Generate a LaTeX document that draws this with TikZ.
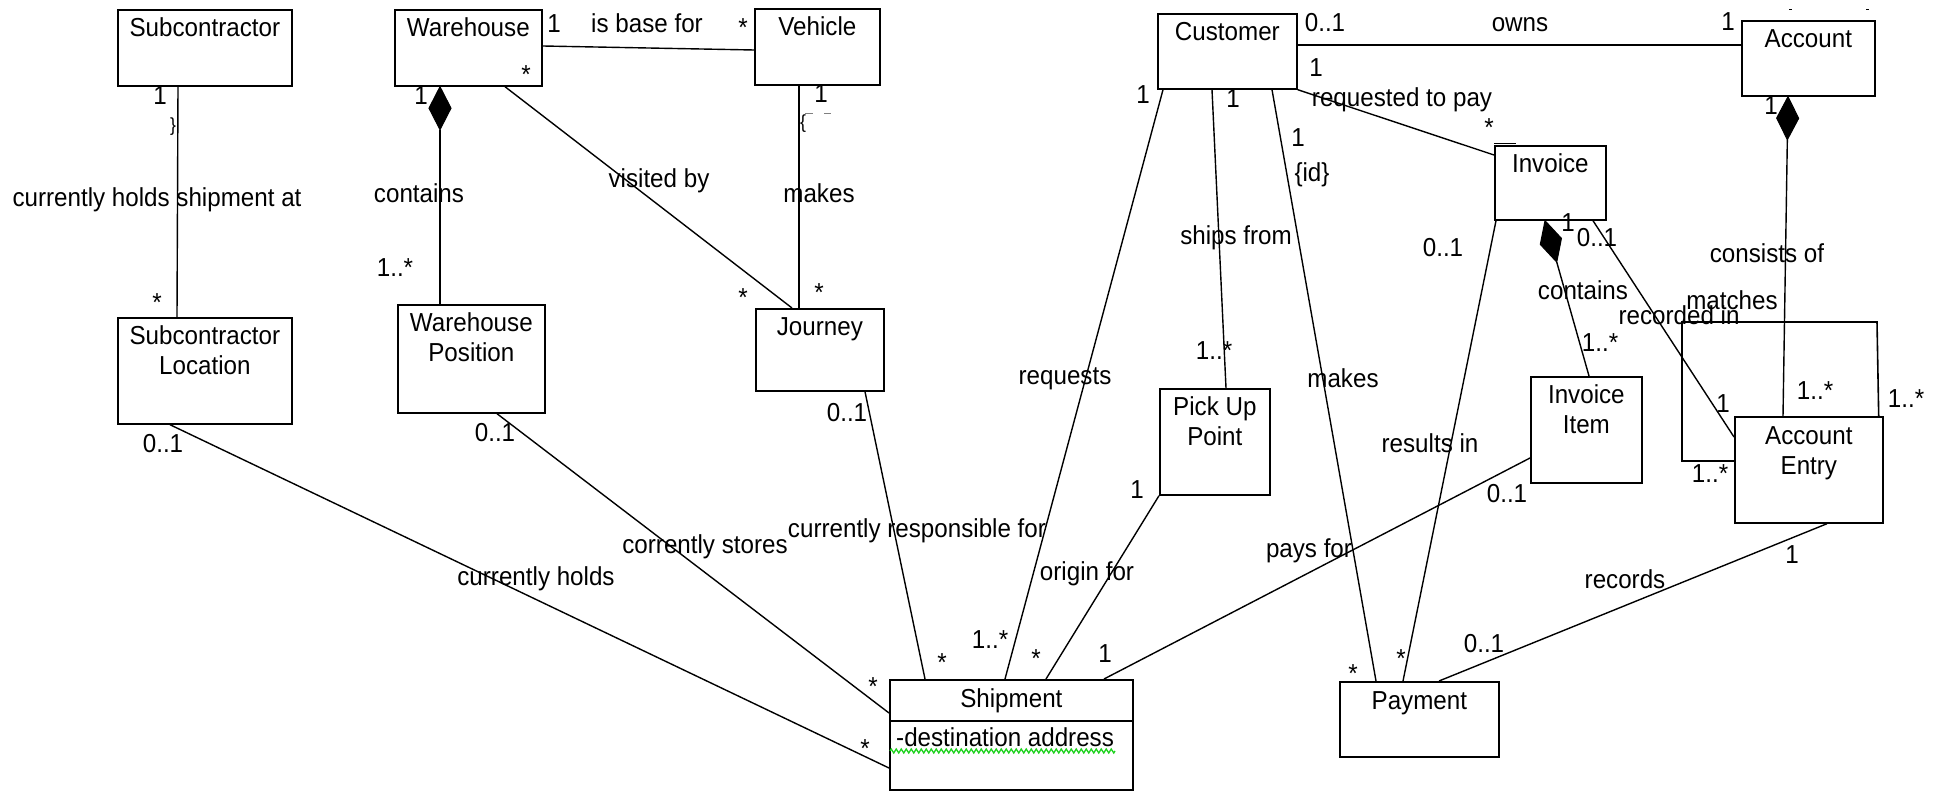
\documentclass[tikz,border=0pt]{standalone}
\usepackage{fontspec}
\setmainfont{Liberation Sans}[FakeStretch=0.93]
\usetikzlibrary{calc,decorations.pathmorphing}
\definecolor{spellmark}{RGB}{30,210,30}
\newcommand\umlfont{\fontsize{26}{30}\selectfont}
\newcommand\umlsmall{\fontsize{19}{22}\selectfont}
% composition: filled diamond at the whole's end, then a plain line to the part
\newcommand\umlcomp[2]{%
  \path (#1) coordinate (dA) (#2) coordinate (dB);
  \path ($(dA)!21.5pt!(dB)$) coordinate (dM) ($(dA)!43pt!(dB)$) coordinate (dE);
  \filldraw[line width=1pt] (dA) -- ($(dM)!11pt!90:(dB)$) -- (dE) -- ($(dM)!11pt!-90:(dB)$) -- cycle;
  \draw[assoc] (dE) -- (dB);}
\tikzset{
  cls/.style={draw, line width=1.7pt, inner sep=0pt, anchor=north west},
  lab/.style={inner sep=0pt, anchor=base, font=\umlfont},
  assoc/.style={line width=1.4pt},
}
\begin{document}
\begin{tikzpicture}[x=1pt,y=-1pt]
\fill[white] (0,0) rectangle (1944,791);
\useasboundingbox (0,0) rectangle (1944,791);

% ---------- classes ----------
\node[cls, minimum width=174pt, minimum height=76pt]  (sub)    at (117,9)   {};
\node[cls, minimum width=147pt, minimum height=76pt]  (wh)     at (394,9)   {};
\node[cls, minimum width=125pt, minimum height=76pt]  (veh)    at (754,8)   {};
\node[cls, minimum width=139pt, minimum height=75pt]  (cust)   at (1157,13) {};
\node[cls, minimum width=133pt, minimum height=75pt]  (acc)    at (1741,20) {};
\node[cls, minimum width=111pt, minimum height=74pt]  (inv)    at (1494,145){};
\node[cls, minimum width=174pt, minimum height=106pt] (subloc) at (117,317) {};
\node[cls, minimum width=147pt, minimum height=108pt] (whpos)  at (397,304) {};
\node[cls, minimum width=128pt, minimum height=82pt]  (jour)   at (755,308) {};
\node[cls, minimum width=110pt, minimum height=106pt] (pup)    at (1159,388){};
\node[cls, minimum width=111pt, minimum height=106pt] (invit)  at (1530,376){};
\node[cls, minimum width=148pt, minimum height=106pt] (acce)   at (1734,416){};
\node[cls, minimum width=243pt, minimum height=110pt] (ship)   at (889,679) {};
\node[cls, minimum width=159pt, minimum height=75pt]  (pay)    at (1339,681){};
\draw[line width=1.7pt] ([yshift=-42pt]ship.north west) -- ([yshift=-42pt]ship.north east);

% class names
\node[lab] at ([yshift=-28pt]sub.north)    {Subcontractor};
\node[lab] at ([yshift=-28pt]wh.north)     {Warehouse};
\node[lab] at ([yshift=-28pt]veh.north)    {Vehicle};
\node[lab] at ([yshift=-28pt]cust.north)   {Customer};
\node[lab] at ([yshift=-28pt]acc.north)    {Account};
\node[lab] at ([yshift=-28pt]inv.north)    {Invoice};
\node[lab] at ([yshift=-28pt]subloc.north) {Subcontractor};
\node[lab] at ([yshift=-58pt]subloc.north) {Location};
\node[lab] at ([yshift=-28pt]whpos.north)  {Warehouse};
\node[lab] at ([yshift=-58pt]whpos.north)  {Position};
\node[lab] at ([yshift=-28pt]jour.north)   {Journey};
\node[lab] at ([yshift=-28pt]pup.north)    {Pick Up};
\node[lab] at ([yshift=-58pt]pup.north)    {Point};
\node[lab] at ([yshift=-28pt]invit.north)  {Invoice};
\node[lab] at ([yshift=-58pt]invit.north)  {Item};
\node[lab] at ([yshift=-28pt]acce.north)   {Account};
\node[lab] at ([yshift=-58pt]acce.north)   {Entry};
\node[lab] at ([yshift=-28pt]ship.north)   {Shipment};
\node[lab] at ([yshift=-28pt]pay.north)    {Payment};
\node[lab, anchor=base west] at ([xshift=7pt,yshift=-67pt]ship.north west) {-destination address};
\draw[spellmark, line width=1.3pt, decorate, decoration={zigzag, segment length=5pt, amplitude=2pt}]
  ([xshift=1pt,yshift=-72pt]ship.north west) -- ([xshift=226pt,yshift=-72pt]ship.north west);

% ---------- associations ----------
\draw[assoc] ([xshift=61pt]sub.south west) -- ([xshift=60pt]subloc.north west);
\draw[assoc] ([yshift=-37pt]wh.north east) -- ([yshift=-42pt]veh.north west);
\umlcomp{[xshift=46pt]wh.south west}{[xshift=43pt]whpos.north west}
\draw[assoc] ([xshift=111pt]wh.south west) -- ([xshift=37pt]jour.north west);
\draw[assoc] ([xshift=45pt]veh.south west) -- ([xshift=44pt]jour.north west);
\draw[assoc] ([xshift=53pt]subloc.south west) -- ([yshift=-89pt]ship.north west);
\draw[assoc] ([xshift=100pt]whpos.south west) -- ([yshift=-34pt]ship.north west);
\draw[assoc] ([xshift=110pt]jour.south west) -- ([xshift=36pt]ship.north west);
\draw[assoc] ([xshift=6pt]cust.south west) -- ([xshift=116pt]ship.north west);
\draw[assoc] ([xshift=55pt]cust.south west) -- ([xshift=67pt]pup.north west);
\draw[assoc] (pup.south west) -- ([xshift=157pt]ship.north west);
\draw[assoc] ([yshift=-82pt]invit.north west) -- ([xshift=215pt]ship.north west);
\draw[assoc] ([xshift=115pt]cust.south west) -- ([xshift=37pt]pay.north west);
\draw[assoc] ([yshift=-32pt]cust.north east) -- ([yshift=-25pt]acc.north west);
\draw[assoc] (cust.south east) -- ([yshift=-10pt]inv.north west);
\draw[assoc] ([xshift=2pt]inv.south west) -- ([xshift=64pt]pay.north west);
\umlcomp{[xshift=51pt]inv.south west}{[xshift=59pt]invit.north west}
\draw[assoc] ([xshift=99pt]inv.south west) -- ([yshift=-21pt]acce.north west);
\umlcomp{[xshift=47pt]acc.south west}{[xshift=49pt]acce.north west}
\draw[assoc, line width=1.6pt] ([yshift=-45pt]acce.north west) -- ++(-52,0) -- ++(0,-139) -- ++(195,0) -- ([xshift=-5pt]acce.north east);
\draw[assoc] ([xshift=100pt]pay.north west) -- ([xshift=93pt]acce.south west);

% small stray marks
\draw[line width=1pt] ([yshift=1.5pt]inv.north west) -- ++(22,0);
\draw[line width=0.6pt, gray] (805,113) -- (813,113) (824,113) -- (831,113);
\draw[line width=0.8pt] (1789,9) -- (1792,9) (1866,9) -- (1869,9);

% ---------- association names and multiplicities ----------
\node[lab] at (160,105) {1};
\node[font=\umlsmall, inner sep=0pt] at (173,127) {\}};
\node[lab] at (157,207) {currently holds shipment at};
\node[lab] at (157,312) {*};

\node[lab] at (554,33) {1};
\node[lab] at (647,33) {is base for};
\node[lab] at (743,37) {*};
\node[lab] at (526,84) {*};

\node[lab] at (421,105) {1};
\node[lab] at (419,203) {contains};
\node[lab] at (395,277) {1..*};

\node[lab] at (659,188) {visited by};
\node[lab] at (743,307) {*};

\node[lab] at (821,103) {1};
\node[font=\umlsmall, inner sep=0pt] at (803,124) {\{};
\node[lab] at (819,203) {makes};
\node[lab] at (819,302) {*};

\node[lab] at (163,452) {0..1};
\node[lab] at (536,585) {currently holds};
\node[lab] at (865,757) {*};

\node[lab] at (495,442) {0..1};
\node[lab] at (705,553) {corrently stores};
\node[lab] at (873,695) {*};

\node[lab] at (847,421) {0..1};
\node[lab] at (917,537) {currently responsible for};
\node[lab] at (942,671) {*};

\node[lab] at (1143,104) {1};
\node[lab] at (1065,385) {requests};
\node[lab] at (990,648) {1..*};

\node[lab] at (1233,108) {1};
\node[lab] at (1236,245) {ships from};
\node[lab] at (1214,360) {1..*};

\node[lab] at (1137,498) {1};
\node[lab] at (1087,580) {origin for};
\node[lab] at (1036,667) {*};

\node[lab] at (1507,502) {0..1};
\node[lab] at (1309,557) {pays for};
\node[lab] at (1105,662) {1};

\node[lab] at (1298,147) {1};
\node[lab] at (1312,182) {\{id\}};
\node[lab] at (1343,388) {makes};
\node[lab] at (1353,682) {*};

\node[lab] at (1325,32) {0..1};
\node[lab] at (1520,32) {owns};
\node[lab] at (1728,31) {1};

\node[lab] at (1316,77) {1};
\node[lab] at (1402,107) {requested to pay};
\node[lab] at (1489,137) {*};

\node[lab] at (1443,257) {0..1};
\node[lab] at (1430,453) {results in};
\node[lab] at (1401,667) {*};

\node[lab] at (1568,232) {1};
\node[lab] at (1583,300) {contains};
\node[lab] at (1600,352) {1..*};

\node[lab] at (1597,247) {0..1};
\node[lab] at (1679,325) {recorded in};
\node[lab] at (1723,413) {1};

\node[lab] at (1771,115) {1};
\node[lab] at (1767,263) {consists of};
\node[lab] at (1815,400) {1..*};

\node[lab] at (1732,310) {matches};
\node[lab] at (1710,482) {1..*};
\node[lab] at (1906,408) {1..*};

\node[lab] at (1484,652) {0..1};
\node[lab] at (1625,588) {records};
\node[lab] at (1792,563) {1};
\end{tikzpicture}
\end{document}
